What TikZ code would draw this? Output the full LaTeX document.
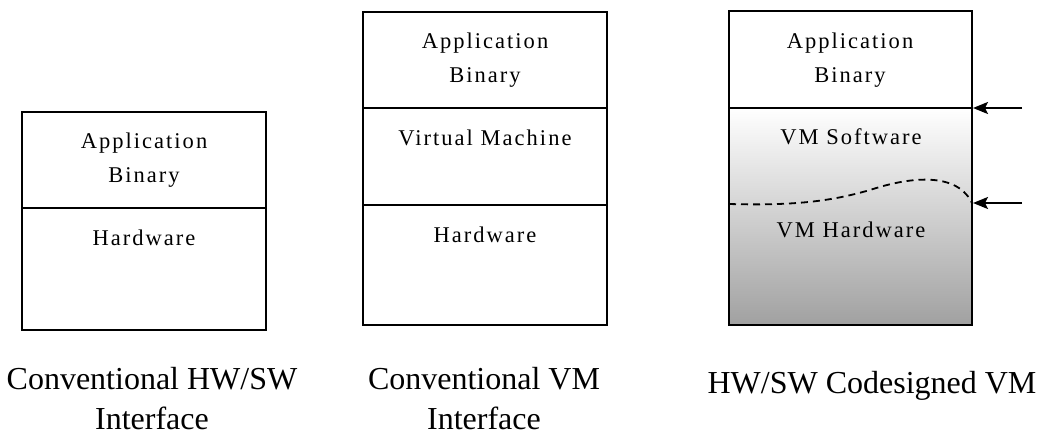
\documentclass[tikz,border=0pt]{standalone}
\usepackage{fontspec}
\setmainfont{Liberation Serif}
\newfontfamily\layerfont[LetterSpace=9]{Liberation Serif}
\usetikzlibrary{arrows.meta}
\tikzset{
  frame/.style={draw=black, line width=2.2pt},
  divider/.style={draw=black, line width=2.2pt},
  layertext/.style={inner sep=0pt, anchor=base, align=center,
    font=\layerfont\fontsize{22.5}{34}\selectfont},
  caption/.style={inner sep=0pt, anchor=base, align=center,
    font=\fontsize{32}{40}\selectfont},
  pointer/.style={draw=black, line width=2.2pt, -{Stealth[length=15pt,width=12pt,inset=3pt]}},
  boundary/.style={draw=black, line width=1.8pt, dash pattern=on 7pt off 5pt}
}
\begin{document}
\begin{tikzpicture}[x=1pt, y=-1pt]
\useasboundingbox (0,0) rectangle (1037,434);

% --- conventional HW/SW interface ---
\draw[frame] (22,112) rectangle (266,330);
\draw[divider] (22,208) -- (266,208);
\node[layertext] (a1) at (144,182) {Application\\Binary};
\node[layertext] (h1) at (144,245) {Hardware};
\node[caption] (c1) at (152,429) {Conventional HW/SW\\Interface};

% --- conventional VM interface ---
\draw[frame] (363,12) rectangle (607,325);
\draw[divider] (363,108) -- (607,108);
\draw[divider] (363,205) -- (607,205);
\node[layertext] (a2) at (485,82) {Application\\Binary};
\node[layertext] (v2) at (485,145) {Virtual Machine};
\node[layertext] (h2) at (485,242) {Hardware};
\node[caption] (c2) at (484,429) {Conventional VM\\Interface};

% --- HW/SW codesigned VM ---
\shade[top color=white, bottom color=black!37] (729,108) rectangle (972,325);
\draw[frame] (729,11) rectangle (972,325);
\draw[divider] (729,108) -- (972,108);
\draw[boundary] (729,204) .. controls (800,206) and (835,200) .. (870,190)
                          .. controls (900,180) and (955,168) .. (972,203);
\node[layertext] (a3) at (850,82) {Application\\Binary};
\node[layertext] (s3) at (851,144) {VM Software};
\node[layertext] (w3) at (851,237) {VM Hardware};
\node[caption] (c3) at (872,393) {HW/SW Codesigned VM};

\coordinate (isa) at (973,108);
\coordinate (isaTail) at (1022,108);
\coordinate (impl) at (973,203);
\coordinate (implTail) at (1022,203);
\draw[pointer] (isaTail) -- (isa);
\draw[pointer] (implTail) -- (impl);
\end{tikzpicture}
\end{document}
